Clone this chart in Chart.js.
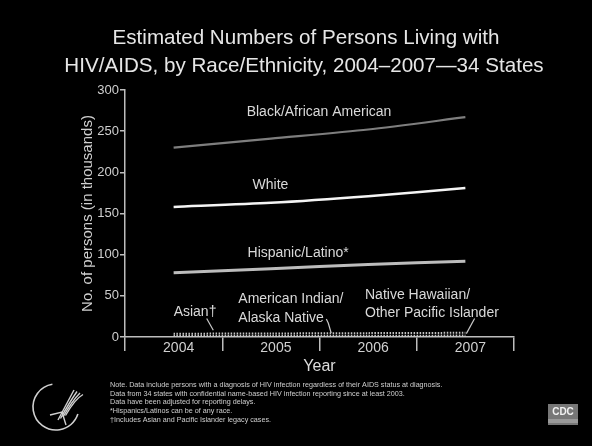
<!DOCTYPE html>
<html>
<head>
<meta charset="utf-8">
<script src="https://cdn.jsdelivr.net/npm/chart.js@4"></script>
<style>
  html, body { margin: 0; padding: 0; background: #000; }
  canvas { display: block; }
</style>
</head>
<body>
<canvas id="c" width="592" height="446"></canvas>
<script>
// Persons living with HIV/AIDS (thousands), 34 states
const years = ['2004', '2005', '2006', '2007'];
const black = [230, 241, 252, 267];
const white = [158, 163, 171, 181];
const hispanic = [78, 83, 88, 92];
const asian = [4.0, 4.3, 4.7, 5.1];
const aian = [1.4, 1.5, 1.6, 1.7];
const nhopi = [0.3, 0.3, 0.4, 0.4];
const yMin = 0, yMax = 300, yStep = 50;

const titleLines = [
  'Estimated Numbers of Persons Living with',
  'HIV/AIDS, by Race/Ethnicity, 2004\u20132007\u201434 States'
];
const notes = [
  'Note. Data include persons with a diagnosis of HIV infection regardless of their AIDS status at diagnosis.',
  'Data from 34 states with confidential name-based HIV infection reporting since at least 2003.',
  'Data have been adjusted for reporting delays.',
  '*Hispanics/Latinos can be of any race.',
  '\u2020Includes Asian and Pacific Islander legacy cases.'
];

// Series labels placed in data units: [text, x index, y value, align]
const seriesLabels = [
  ['Black/African American', 1.495, 273, 'center'],
  ['White', 0.996, 184.5, 'center'],
  ['Hispanic/Latino*', 1.28, 102, 'center'],
  ['Asian\u2020', 0.0, 30.4, 'left'],
  ['American Indian/', 0.665, 45.5, 'left'],
  ['Alaska Native', 0.665, 22.4, 'left'],
  ['Native Hawaiian/', 1.968, 50.7, 'left'],
  ['Other Pacific Islander', 1.968, 29.2, 'left']
];
// Leader lines from small-group labels down to their series
const leaders = [
  [[0.34, 22.4], [0.408, 8.2]],
  [[1.57, 22.0], [1.59, 17.0], [1.62, 4.9]],
  [[3.095, 22.4], [3.01, 4.1]]
];

const FONT = "'Liberation Sans', Arial, sans-serif";

const decor = {
  id: 'decor',
  afterDraw(chart) {
    const ctx = chart.ctx;
    const xs = chart.scales.x, ys = chart.scales.y;
    ctx.save();

    // Title
    ctx.fillStyle = '#e6e6e6';
    ctx.font = '20.6px ' + FONT;
    ctx.textAlign = 'center';
    ctx.textBaseline = 'middle';
    ctx.fillText(titleLines[0], 306, 38);
    ctx.fillText(titleLines[1], 304, 66);

    // Series labels
    ctx.fillStyle = '#d9d9d9';
    ctx.font = '14px ' + FONT;
    seriesLabels.forEach(([t, xi, yv, al]) => {
      ctx.textAlign = al;
      ctx.fillText(t, xs.getPixelForValue(xi), ys.getPixelForValue(yv));
    });

    // Leader lines
    ctx.strokeStyle = '#c8c8c8';
    ctx.lineWidth = 1.2;
    leaders.forEach(pts => {
      ctx.beginPath();
      pts.forEach(([xi, yv], i) => {
        const px = xs.getPixelForValue(xi), py = ys.getPixelForValue(yv);
        if (i === 0) ctx.moveTo(px, py); else ctx.lineTo(px, py);
      });
      ctx.stroke();
    });

    // Footnotes
    ctx.fillStyle = '#cfcfcf';
    ctx.font = '7.2px ' + FONT;
    ctx.textAlign = 'left';
    notes.forEach((t, i) => ctx.fillText(t, 110, 385 + i * 8.7));

    // HHS emblem
    ctx.strokeStyle = '#d0d0d0';
    ctx.lineWidth = 1.6;
    ctx.beginPath();
    ctx.arc(56, 407, 23, 1.45 * Math.PI, 0.1 * Math.PI, true);
    ctx.stroke();
    ctx.lineWidth = 1.4;
    for (let k = 0; k < 4; k++) {
      ctx.beginPath();
      ctx.moveTo(58 + k * 2.5, 420 - k * 1.5);
      ctx.quadraticCurveTo(66 + k * 3, 405 - k * 2, 74 + k * 3, 390 + k * 1.5);
      ctx.stroke();
    }
    ctx.beginPath();
    ctx.moveTo(50, 415); ctx.lineTo(62, 412); ctx.lineTo(66, 425); ctx.stroke();

    // CDC badge
    ctx.fillStyle = '#777';
    ctx.fillRect(548, 404, 30, 21);
    ctx.fillStyle = '#f2f2f2';
    ctx.font = 'bold 10px ' + FONT;
    ctx.textAlign = 'center';
    ctx.fillText('CDC', 563, 412);
    ctx.fillStyle = '#999';
    ctx.fillRect(548, 419, 30, 4);

    ctx.restore();
  }
};

const lineDs = (label, data, color, width, dash) => ({
  label, data,
  borderColor: color,
  borderWidth: width,
  borderDash: dash || [],
  pointRadius: 0,
  tension: 0.25,
  fill: false
});

new Chart(document.getElementById('c'), {
  type: 'line',
  data: {
    labels: years,
    datasets: [
      lineDs('Black/African American', black, '#7e7e7e', 2.2),
      lineDs('White', white, '#f4f4f4', 2.5),
      lineDs('Hispanic/Latino', hispanic, '#bcbcbc', 3),
      lineDs('Asian', asian, '#c4c4c4', 2, [1.5, 1.5]),
      lineDs('American Indian/Alaska Native', aian, '#c4c4c4', 2, [1.5, 1.5]),
      lineDs('Native Hawaiian/Other Pacific Islander', nhopi, '#c4c4c4', 2, [1.5, 1.5])
    ]
  },
  options: {
    responsive: false,
    animation: false,
    devicePixelRatio: 1,
    layout: { padding: { left: 70, top: 90, right: 78, bottom: 66 } },
    plugins: { legend: { display: false }, tooltip: { enabled: false } },
    scales: {
      x: {
        type: 'category',
        offset: true,
        grid: { offset: true, drawOnChartArea: false, drawTicks: true, tickLength: 14, color: '#bdbdbd', lineWidth: 1.5 },
        border: { color: '#bdbdbd', width: 1.5 },
        ticks: { color: '#d0d0d0', font: { size: 14, family: FONT }, padding: -11, labelOffset: 5, maxRotation: 0 },
        title: { display: true, text: 'Year', color: '#dcdcdc', font: { size: 16, family: FONT }, padding: { top: 0, bottom: 4 } },
        afterFit(s) { s.height = 43; }
      },
      y: {
        min: yMin, max: yMax,
        ticks: { stepSize: yStep, color: '#cfcfcf', font: { size: 13, family: FONT }, padding: 1 },
        grid: { drawOnChartArea: false, drawTicks: true, tickLength: 5, color: '#bdbdbd', lineWidth: 1.5 },
        border: { color: '#bdbdbd', width: 1.5 },
        title: { display: true, text: 'No. of persons (in thousands)', color: '#cfcfcf', font: { size: 15, family: FONT }, padding: { top: 9, bottom: 0 } },
        afterFit(s) { s.width = 55; }
      }
    }
  },
  plugins: [decor]
});
</script>
</body>
</html>
